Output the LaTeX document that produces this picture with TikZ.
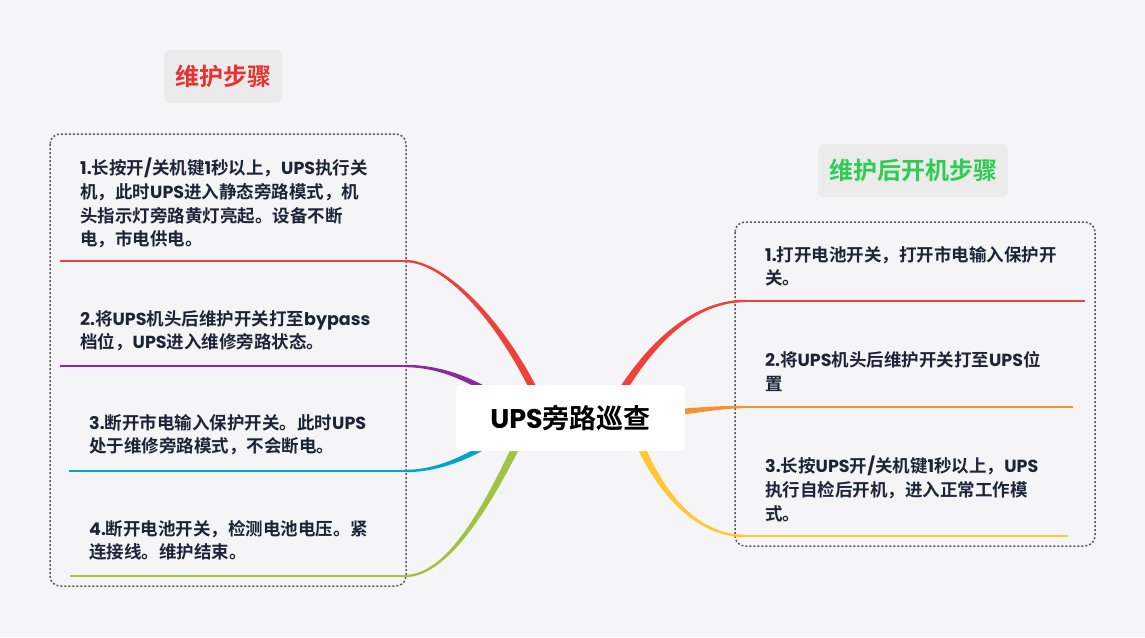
\documentclass[tikz,border=0pt]{standalone}
\usepackage{fontspec}
\setmainfont{Noto Sans CJK SC}[BoldFont={Noto Sans CJK SC Bold}]
\newfontfamily\lat{Poppins}
\usetikzlibrary{calc}
\definecolor{bgc}{HTML}{F5F5F8}
\definecolor{titlebg}{HTML}{EBEBEB}
\definecolor{titred}{HTML}{E8322F}
\definecolor{titgreen}{HTML}{2ECC52}
\definecolor{textc}{HTML}{1C2537}
\definecolor{dotc}{HTML}{5A5A5A}
\definecolor{bred}{HTML}{F0403A}
\definecolor{bpurple}{HTML}{8B2A9A}
\definecolor{bcyan}{HTML}{00A5CC}
\definecolor{bgreen}{HTML}{A2C341}
\definecolor{borange}{HTML}{F6912E}
\definecolor{byellow}{HTML}{FFC733}
\newcommand\lt[1]{{\lat #1}}
\newcommand\branch[7]{%
\fill[#1] ($(#2)!#6!-90:#3$) .. controls ($#3!#6!90:(#2)$) and ($#4!#7!-90:(#5)$) .. ($(#5)!#7!90:#4$) -- ($(#5)!#7!-90:#4$) .. controls ($#4!#7!90:(#5)$) and ($#3!#6!-90:(#2)$) .. ($(#2)!#6!90:#3$) -- cycle;}
\tikzset{
  itemtext/.style={anchor=north west, inner sep=0pt, align=left, text=textc,
    font=\fontsize{17.5}{23.7}\selectfont\bfseries},
  titlebox/.style={fill=titlebg, rounded corners=6pt, minimum height=53pt, inner sep=0pt,
    font=\fontsize{24}{28}\selectfont\bfseries},
  dotbox/.style={draw=dotc, line width=1.5pt, dash pattern=on 2pt off 2pt, rounded corners=10pt},
  uline/.style={line width=2.4pt},
  center/.style={fill=white, rounded corners=6pt, minimum width=229pt, minimum height=66pt,
    inner sep=0pt, font=\fontsize{27}{30}\selectfont\bfseries, text=black}
}
\begin{document}
\begin{tikzpicture}[x=1pt,y=-1pt]
\useasboundingbox (0,0) rectangle (1145,637);
\fill[bgc] (0,0) rectangle (1145,637);
% dotted group boxes
\draw[dotbox] (50,134) rectangle (406,586);
\draw[dotbox] (735,222) rectangle (1095,546);
% titles
\node[titlebox, minimum width=118pt, text=titred] (t1) at (223,76.5) {维护步骤};
\node[titlebox, minimum width=190pt, text=titgreen] (t2) at (913,170.5) {维护后开机步骤};
% coordinates
\coordinate (c) at (570.5,418);
\coordinate (l1s) at (60,261);  \coordinate (l1e) at (405,261);
\coordinate (l2s) at (60,366);  \coordinate (l2e) at (405,366);
\coordinate (l3s) at (69,471);  \coordinate (l3e) at (405,471);
\coordinate (l4s) at (70,576);  \coordinate (l4e) at (405,576);
\coordinate (r1s) at (1085,301); \coordinate (r1e) at (745,301);
\coordinate (r2s) at (1073,407); \coordinate (r2e) at (745,407);
\coordinate (r3s) at (1068,536); \coordinate (r3e) at (745,536);
% underlines
\draw[uline, bred] (l1s) -- (l1e);
\draw[uline, bpurple] (l2s) -- (l2e);
\draw[uline, bcyan] (l3s) -- (l3e);
\draw[uline, bgreen] (l4s) -- (l4e);
\draw[uline, bred] (r1s) -- (r1e);
\draw[uline, borange] (r2s) -- (r2e);
\draw[uline, byellow] (r3s) -- (r3e);
% branches
\coordinate (e1) at (555,440);
\coordinate (e2) at (520,415);
\coordinate (e3) at (520,420);
\coordinate (e4) at (530,418);
\coordinate (f1) at (600,430);
\coordinate (f2) at (620,418);
\coordinate (f3) at (630,418);
\branch{bred}{l1e}{(450,261)}{(520,340)}{e1}{1.2pt}{4pt}
\branch{bpurple}{l2e}{(440,366)}{(480,380)}{e2}{1.2pt}{3.5pt}
\branch{bcyan}{l3e}{(440,471)}{(480,455)}{e3}{1.2pt}{3.5pt}
\branch{bgreen}{l4e}{(455,576)}{(500,480)}{e4}{1.2pt}{4pt}
\branch{bred}{r1e}{(690,301)}{(640,350)}{f1}{1.2pt}{4pt}
\branch{borange}{r2e}{(720,407)}{(700,410)}{f2}{1.2pt}{3.5pt}
\branch{byellow}{r3e}{(690,536)}{(650,480)}{f3}{1.2pt}{4pt}
% center
\node[center] (ctr) at (c) {\lt{UPS}旁路巡查};
% texts
\node[itemtext] (L1) at (80,158) {\lt{1.}长按开\lt{/}关机键\lt{1}秒以上，\lt{UPS}执行关\\机，此时\lt{UPS}进入静态旁路模式，机\\头指示灯旁路黄灯亮起。设备不断\\电，市电供电。};
\node[itemtext] (L2) at (80,310) {\lt{2.}将\lt{UPS}机头后维护开关打至\lt{bypass}\\档位，\lt{UPS}进入维修旁路状态。};
\node[itemtext] (L3) at (89,414) {\lt{3.}断开市电输入保护开关。此时\lt{UPS}\\处于维修旁路模式，不会断电。};
\node[itemtext] (L4) at (89,520) {\lt{4.}断开电池开关，检测电池电压。紧\\连接线。维护结束。};
\node[itemtext] (R1) at (765,246) {\lt{1.}打开电池开关，打开市电输入保护开\\关。};
\node[itemtext] (R2) at (765,351) {\lt{2.}将\lt{UPS}机头后维护开关打至\lt{UPS}位\\置};
\node[itemtext] (R3) at (765,456) {\lt{3.}长按\lt{UPS}开\lt{/}关机键\lt{1}秒以上，\lt{UPS}\\执行自检后开机，进入正常工作模\\式。};
\end{tikzpicture}
\end{document}
